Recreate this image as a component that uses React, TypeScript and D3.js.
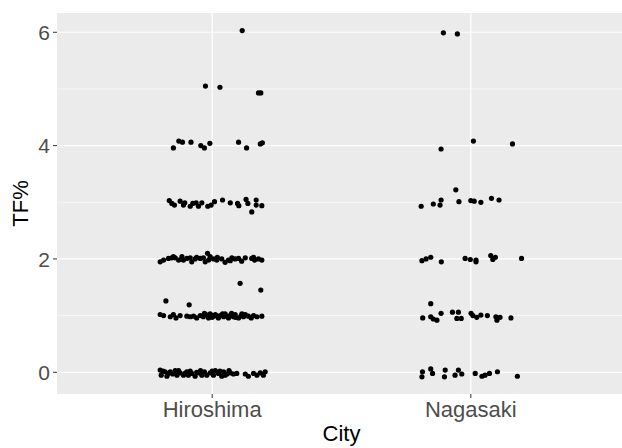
import React from 'react';
import * as d3 from 'd3';

// city categories and tick labels
const cities = ['Hiroshima', 'Nagasaki'];
const yTicks = [0, 2, 4, 6];
const yMinor = [1, 3, 5];

// jittered points: [horizontal jitter in category units, TF%]
const hiroshima: [number, number][] = [
  [0.116, 6.03],
  [-0.026, 5.05], [0.03, 5.03], [0.179, 4.93], [0.188, 4.93],
  [-0.15, 3.96], [-0.129, 4.08], [-0.115, 4.06], [-0.082, 4.06], [-0.044, 4.0], [-0.03, 3.96],
  [-0.009, 4.04], [0.102, 4.06], [0.133, 3.96], [0.186, 4.03], [0.194, 4.05],
  [-0.166, 3.03], [-0.156, 2.98], [-0.146, 2.95], [-0.124, 3.02], [-0.111, 2.95], [-0.106, 2.99],
  [-0.085, 2.93], [-0.075, 2.98], [-0.062, 2.99], [-0.053, 2.93], [-0.04, 2.99], [-0.017, 2.93],
  [-0.004, 2.95], [0.009, 3.01], [0.04, 3.04], [0.07, 2.99], [0.098, 2.98], [0.103, 2.94],
  [0.131, 3.05], [0.138, 2.98], [0.153, 2.83], [0.17, 3.04], [0.17, 2.95], [0.192, 2.94],
  [-0.201, 1.95], [-0.188, 1.98], [-0.169, 2.01], [-0.156, 2.02], [-0.143, 2.02], [-0.13, 1.98],
  [-0.117, 2.04], [-0.111, 1.98], [-0.098, 2.01], [-0.085, 2.02], [-0.079, 1.95], [-0.066, 2.0],
  [-0.046, 2.01], [-0.034, 2.02], [-0.027, 1.95], [-0.014, 1.98], [-0.008, 2.04], [0.005, 2.0],
  [0.018, 1.98], [0.037, 2.0], [0.05, 1.94], [0.063, 1.98], [0.076, 2.02], [0.089, 2.0],
  [0.102, 2.01], [0.114, 1.96], [0.128, 2.02], [0.153, 2.01], [0.164, 1.98], [0.179, 2.0],
  [0.192, 1.98], [-0.15, 2.04], [-0.12, 1.99], [-0.06, 2.03], [0.02, 2.03], [0.07, 1.97],
  [0.16, 2.03], [-0.018, 2.1],
  [-0.179, 1.26], [-0.089, 1.19], [0.108, 1.57], [0.188, 1.45],
  [-0.201, 1.02], [-0.188, 1.0], [-0.162, 0.98], [-0.15, 1.02], [-0.14, 0.96], [-0.124, 1.0],
  [-0.098, 0.99], [-0.085, 0.98], [-0.072, 0.99], [-0.06, 0.96], [-0.046, 1.0], [-0.034, 0.98],
  [-0.024, 1.02], [-0.014, 0.96], [-0.008, 1.03], [0.005, 0.99], [0.012, 1.02], [0.024, 0.96],
  [0.031, 1.0], [0.044, 0.98], [0.05, 1.03], [0.063, 0.96], [0.07, 1.0], [0.082, 0.98],
  [0.089, 1.02], [0.102, 0.96], [0.112, 1.0], [0.121, 0.98], [0.128, 1.02], [0.14, 0.99],
  [0.151, 0.96], [0.16, 1.0], [0.173, 0.98], [0.192, 0.99], [-0.03, 1.04], [0.0, 0.97],
  [0.04, 1.03], [0.06, 0.99], [0.09, 0.97], [0.115, 1.03], [-0.005, 1.01], [0.02, 0.99],
  [0.075, 1.04],
  [-0.201, 0.04], [-0.197, -0.05], [-0.182, 0.01], [-0.175, -0.07], [-0.162, 0.01], [-0.153, -0.03],
  [-0.143, 0.03], [-0.136, -0.05], [-0.124, -0.01], [-0.111, -0.05], [-0.098, 0.01], [-0.092, -0.05],
  [-0.079, -0.02], [-0.066, -0.07], [-0.053, -0.01], [-0.04, -0.05], [-0.03, 0.01], [-0.021, -0.05],
  [-0.008, -0.01], [0.005, -0.05], [0.012, 0.03], [0.024, -0.02], [0.037, -0.07], [0.044, 0.01],
  [0.057, -0.03], [0.07, -0.01], [0.082, -0.03], [0.095, -0.02], [0.128, -0.03], [0.14, -0.07],
  [0.16, -0.02], [0.173, -0.05], [0.186, -0.01], [0.198, -0.05], [0.205, 0.01], [-0.19, 0.02],
  [-0.17, -0.02], [-0.13, 0.03], [-0.105, -0.02], [-0.085, 0.02], [-0.06, 0.0], [-0.045, 0.03],
  [0.0, 0.02], [0.03, 0.02], [0.05, -0.05], [0.065, 0.03],
];

const nagasaki: [number, number][] = [
  [-0.106, 5.99], [-0.052, 5.97],
  [-0.115, 3.94], [0.01, 4.08], [0.161, 4.03],
  [-0.192, 2.93], [-0.145, 2.97], [-0.119, 2.95], [-0.115, 3.04], [-0.058, 3.22], [-0.046, 3.01],
  [0.0, 3.03], [0.013, 3.02], [0.039, 3.0], [0.08, 3.07], [0.109, 3.04],
  [-0.189, 1.97], [-0.173, 2.0], [-0.155, 2.03], [-0.114, 1.95], [-0.022, 2.01], [-0.002, 1.99],
  [0.02, 1.98], [0.02, 1.95], [0.077, 2.06], [0.085, 1.99], [0.095, 2.03], [0.196, 2.01],
  [-0.155, 1.21], [-0.186, 0.96], [-0.155, 0.98], [-0.145, 0.94], [-0.131, 0.92], [-0.115, 1.04],
  [-0.071, 1.06], [-0.048, 1.06], [-0.054, 0.95], [-0.037, 0.95], [0.001, 1.04], [0.008, 1.0],
  [0.023, 0.97], [0.039, 1.01], [0.064, 1.0], [0.097, 0.98], [0.101, 0.92], [0.113, 0.97],
  [0.155, 0.96],
  [-0.187, 0.01], [-0.189, -0.08], [-0.155, 0.06], [-0.148, -0.02], [-0.099, 0.04], [-0.102, -0.08],
  [-0.061, -0.05], [-0.048, 0.04], [-0.035, -0.03], [0.017, -0.02], [0.043, -0.07], [0.055, -0.05],
  [0.072, -0.02], [0.103, 0.01], [0.18, -0.07],
];

const W = 622;
const H = 448;
const panel = { left: 57, top: 13, right: 626, bottom: 394 };
const textGray = '#4D4D4D';
const font = '"Liberation Sans", Arial, sans-serif';

export default function App() {
  const x = d3.scaleLinear().domain([0.4, 2.6]).range([panel.left, panel.right]);
  const y = d3.scaleLinear().domain([-0.383, 6.34]).range([panel.bottom, panel.top]);

  const points = [
    ...hiroshima.map(([j, v]) => ({ cx: x(1 + j), cy: y(v) })),
    ...nagasaki.map(([j, v]) => ({ cx: x(2 + j), cy: y(v) })),
  ];

  return (
    <svg width={W} height={H} style={{ position: 'absolute', left: 0, top: 0 }} fontFamily={font}>
      <rect x={0} y={0} width={W} height={H} fill="#fff" />
      <rect x={panel.left} y={panel.top} width={panel.right - panel.left} height={panel.bottom - panel.top} fill="#EBEBEB" />
      {yMinor.map((t) => (
        <line key={'m' + t} x1={panel.left} x2={panel.right} y1={y(t)} y2={y(t)} stroke="#fff" strokeWidth={0.6} />
      ))}
      {yTicks.map((t) => (
        <line key={'g' + t} x1={panel.left} x2={panel.right} y1={y(t)} y2={y(t)} stroke="#fff" strokeWidth={1.2} />
      ))}
      {cities.map((c, i) => (
        <line key={'v' + c} x1={x(i + 1)} x2={x(i + 1)} y1={panel.top} y2={panel.bottom} stroke="#fff" strokeWidth={1.2} />
      ))}
      {points.map((p, i) => (
        <circle key={i} cx={p.cx} cy={p.cy} r={2.6} fill="#000" />
      ))}
      {yTicks.map((t) => (
        <g key={'t' + t}>
          <line x1={panel.left - 4} x2={panel.left} y1={y(t)} y2={y(t)} stroke="#333" strokeWidth={1} />
          <text x={panel.left - 7} y={y(t)} dy="0.36em" textAnchor="end" fontSize={21} fill={textGray}>{t}</text>
        </g>
      ))}
      {cities.map((c, i) => (
        <g key={'c' + c}>
          <line x1={x(i + 1)} x2={x(i + 1)} y1={panel.bottom} y2={panel.bottom + 4} stroke="#333" strokeWidth={1} />
          <text x={x(i + 1)} y={panel.bottom + 23} textAnchor="middle" fontSize={22} fill={textGray}>{c}</text>
        </g>
      ))}
      <text x={(panel.left + panel.right) / 2} y={441} textAnchor="middle" fontSize={22} fill="#000">City</text>
      <text transform={`translate(28,${(panel.top + panel.bottom) / 2}) rotate(-90)`} textAnchor="middle" fontSize={22} fill="#000">TF%</text>
    </svg>
  );
}
